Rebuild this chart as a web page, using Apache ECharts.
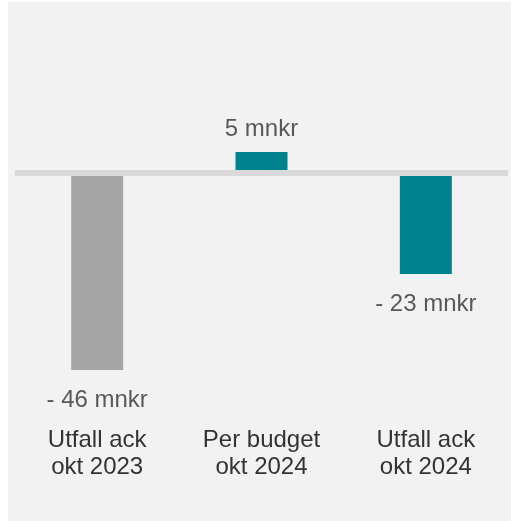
<!DOCTYPE html>
<html>
<head>
<meta charset="utf-8">
<script src="https://cdn.jsdelivr.net/npm/echarts@6/dist/echarts.min.js"></script>
<style>
  html, body { margin: 0; padding: 0; background: #ffffff; }
  #chart { position: absolute; left: 8px; top: 2px; width: 503px; height: 519px; }
</style>
</head>
<body>
<div id="chart"></div>
<script>
// Data
const categories = ['Utfall ack\nokt 2023', 'Per budget\nokt 2024', 'Utfall ack\nokt 2024'];
const values = [-45.8, 4.9, -23.5];
const valueLabels = ['- 46 mnkr', '5 mnkr', '- 23 mnkr'];
const barColors = ['#a5a5a5', '#00838f', '#00838f'];

const chart = echarts.init(document.getElementById('chart'), null, { renderer: 'canvas' });

const seriesData = values.map((v, i) => ({
  value: v,
  itemStyle: { color: barColors[i] },
  label: {
    show: true,
    position: v >= 0 ? 'top' : 'bottom',
    distance: v >= 0 ? 11 : 18,
    formatter: valueLabels[i]
  }
}));

chart.setOption({
  backgroundColor: '#f2f2f2',
  animation: false,
  grid: { left: 7, right: 3, top: 85, bottom: 111.5, containLabel: false },
  xAxis: [
    {
      type: 'category',
      data: categories,
      z: 10,
      axisLine: { show: true, onZero: true, lineStyle: { color: '#d9d9d9', width: 6, cap: 'butt' } },
      axisTick: { show: false },
      axisLabel: { show: false },
      splitLine: { show: false }
    },
    {
      type: 'category',
      data: categories,
      position: 'bottom',
      axisLine: { show: false, onZero: false },
      axisTick: { show: false },
      axisLabel: {
        show: true,
        margin: 17,
        color: '#333333',
        fontFamily: 'Liberation Sans, Arial, sans-serif',
        fontSize: 24,
        lineHeight: 27
      },
      splitLine: { show: false }
    }
  ],
  yAxis: {
    type: 'value',
    min: -55,
    max: 20,
    show: false,
    splitLine: { show: false }
  },
  series: [{
    type: 'bar',
    data: seriesData,
    barWidth: 52,
    label: {
      color: '#595959',
      fontFamily: 'Liberation Sans, Arial, sans-serif',
      fontSize: 24
    }
  }]
});
</script>
</body>
</html>
